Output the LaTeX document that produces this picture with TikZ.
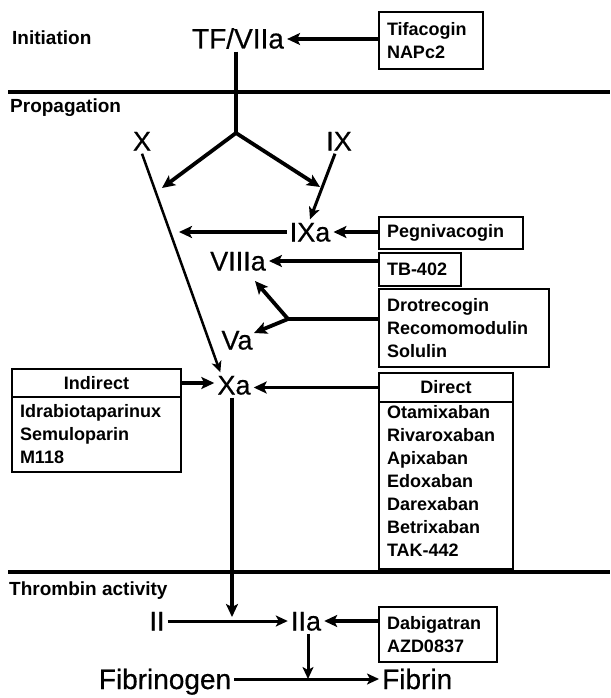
\documentclass[tikz,border=0pt]{standalone}
\usepackage{fontspec}
\setmainfont{Liberation Sans}
\newfontfamily\bigfont[FakeBold=0.5]{Liberation Sans}
\usetikzlibrary{arrows.meta,calc}
\begin{document}
\begin{tikzpicture}[x=1pt,y=-1pt,
  big/.style={font=\bigfont\fontsize{27}{27}\selectfont, inner sep=3pt, text height=19pt, text depth=0pt},
  sect/.style={font=\bfseries\fontsize{19}{20}\selectfont, anchor=base west, inner sep=0pt},
  drug/.style={draw, line width=2pt, font=\bfseries\fontsize{18}{23}\selectfont, align=left, anchor=north west, inner xsep=8pt, inner ysep=0pt},
  head/.style={draw, line width=2pt, font=\bfseries\fontsize{18}{23}\selectfont, align=center, anchor=north west, inner sep=0pt},
  tip/.style={-{Stealth[length=13pt,width=12pt,inset=3pt]}},
  arr/.style={line width=3.8pt, tip},
  marr/.style={line width=3pt, -{Stealth[length=12pt,width=11pt,inset=3pt]}},
  tarr/.style={line width=2.5pt, -{Stealth[length=11pt,width=10pt,inset=3pt]}},
  rule/.style={line width=4pt}
]
\useasboundingbox (0,0) rectangle (610,698);

% section rules
\draw[rule] (8,92) -- (610,92);
\draw[rule] (8,572) -- (610,572);

% section labels
\node[sect] (init) at (12,45) {Initiation};
\node[sect] (prop) at (10,113) {Propagation};
\node[sect] (thr) at (9,595) {Thrombin activity};

% factor labels
\node[big, font=\bigfont\fontsize{28}{28}\selectfont] (tf) at (238,39) {TF/VIIa};
\node[big] (x) at (142,141) {X};
\node[big] (ix) at (339,141) {IX};
\node[big] (ixa) at (310,232) {IXa};
\node[big] (viiia) at (238,261) {VIIIa};
\node[big] (va) at (237,340) {Va};
\node[big] (xa) at (234,385) {Xa};
\node[big] (ii) at (157,621) {II};
\node[big] (iia) at (306,621) {IIa};
\node[big, font=\bigfont\fontsize{28}{28}\selectfont, text height=20pt] (fbg) at (165,679) {Fibrinogen};
\node[big, font=\bigfont\fontsize{28}{28}\selectfont, text height=20pt, anchor=west] (fbn) at (379,679) {Fibrin};

% drug boxes
\node[drug, minimum height=57pt, text width=88pt] (tifa) at (378,11) {Tifacogin\\NAPc2};
\node[drug, minimum height=32pt, text width=128pt] (peg) at (378,216) {Pegnivacogin};
\node[drug, minimum height=33pt, text width=66pt] (tb) at (378,252) {TB-402};
\node[drug, minimum height=78pt, text width=154pt] (drot) at (378,288) {Drotrecogin\\Recomomodulin\\Solulin};
\node[head, minimum height=28pt, minimum width=169pt] (ind) at (11,368) {Indirect};
\node[drug, minimum height=75pt, text width=153pt] (indl) at (11,396) {Idrabiotaparinux\\Semuloparin\\M118};
\node[head, minimum height=29pt, minimum width=134pt] (dir) at (378,372) {Direct};
\node[drug, minimum height=167pt, text width=118pt] (dirl) at (378,401) {Otamixaban\\Rivaroxaban\\Apixaban\\Edoxaban\\Darexaban\\Betrixaban\\TAK-442\\[-14pt]\mbox{}};
\node[drug, minimum height=55pt, text width=102pt] (dab) at (378,606) {Dabigatran\\AZD0837};

% helper coordinates
\coordinate (j) at (236,133);
\coordinate (xin) at (162,188);
\coordinate (ixin) at (320,187);
\coordinate (xl) at (179,232);
\coordinate (k) at (288,319);
\coordinate (vt) at (255,281);
\coordinate (vat) at (254,333);
\coordinate (xad) at (232,617);
\coordinate (fd) at (308,679);

% connectors
\draw[arr] (tifa.west |- tf) -- (tf.east);
\draw[line width=3.8pt] (j |- tf.south) -- (j);
\draw[arr] (j) -- (xin);
\draw[arr] (j) -- (ixin);
\draw[tarr] (x.south) -- ([xshift=6pt]xa.north west);
\draw[marr] ([xshift=-4pt]ix.south) -- (ixa.north);
\draw[arr] (ixa.west) -- (xl);
\draw[arr] (peg.west |- ixa) -- (ixa.east);
\draw[arr] (tb.west |- viiia) -- (viiia.east);
\draw[line width=3.8pt] (drot.west |- k) -- (k);
\draw[arr] (k) -- (vt);
\draw[arr] (k) -- (vat);
\draw[arr] (ind.east) -- (xa.west |- ind.east);
\draw[arr] (dir.west) -- (xa.east |- dir.west);
\draw[arr] (xad |- xa.south) -- (xad);
\draw[marr] (ii.east) -- (iia.west);
\draw[arr] (dab.west |- iia) -- (iia.east);
\draw[marr] (fd |- iia.south) -- (fd);
\draw[marr] (fbg.east) -- (fbn.west);
\end{tikzpicture}
\end{document}
